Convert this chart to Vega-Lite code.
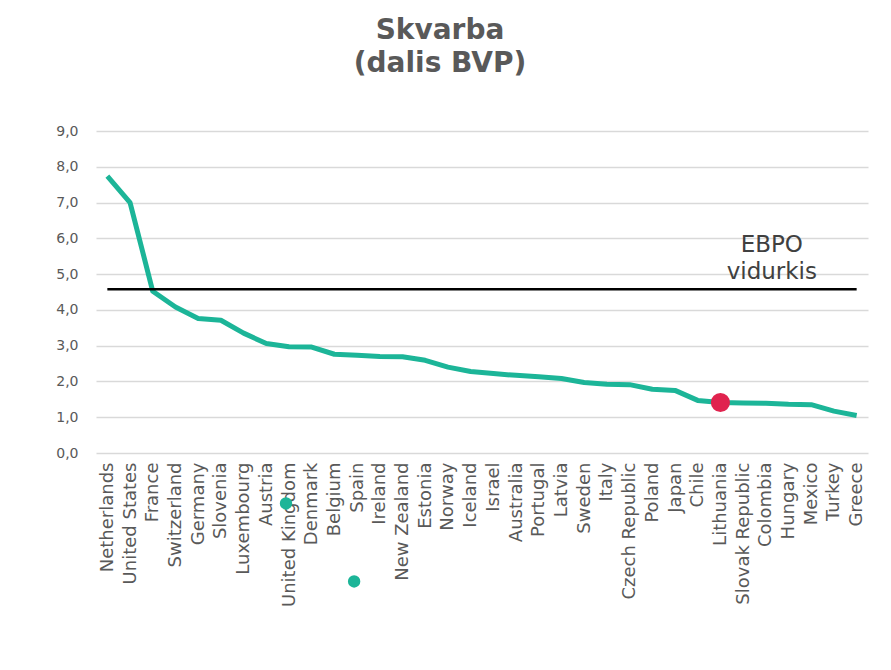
{
  "$schema": "https://vega.github.io/schema/vega-lite/v6.json",
  "autosize": "none",
  "width": 772,
  "height": 322,
  "padding": {"left": 96, "top": 131, "right": 23, "bottom": 217},
  "background": "white",
  "title": {
    "text": ["Skvarba", "(dalis BVP)"],
    "font": "DejaVu Sans",
    "fontSize": 28,
    "fontWeight": "bold",
    "color": "#595959",
    "anchor": "middle",
    "dx": -42,
    "offset": 46,
    "lineHeight": 33
  },
  "config": {
    "view": {"stroke": null},
    "font": "DejaVu Sans"
  },
  "datasets": {
    "main": [
      {"country": "Netherlands", "value": 7.74},
      {"country": "United States", "value": 7.0},
      {"country": "France", "value": 4.52},
      {"country": "Switzerland", "value": 4.08},
      {"country": "Germany", "value": 3.76},
      {"country": "Slovenia", "value": 3.71},
      {"country": "Luxembourg", "value": 3.35},
      {"country": "Austria", "value": 3.06},
      {"country": "United Kingdom", "value": 2.97},
      {"country": "Denmark", "value": 2.96},
      {"country": "Belgium", "value": 2.76},
      {"country": "Spain", "value": 2.73},
      {"country": "Ireland", "value": 2.7},
      {"country": "New Zealand", "value": 2.69},
      {"country": "Estonia", "value": 2.59},
      {"country": "Norway", "value": 2.4},
      {"country": "Iceland", "value": 2.28},
      {"country": "Israel", "value": 2.22},
      {"country": "Australia", "value": 2.17},
      {"country": "Portugal", "value": 2.13},
      {"country": "Latvia", "value": 2.08},
      {"country": "Sweden", "value": 1.97},
      {"country": "Italy", "value": 1.92},
      {"country": "Czech Republic", "value": 1.91},
      {"country": "Poland", "value": 1.78},
      {"country": "Japan", "value": 1.75},
      {"country": "Chile", "value": 1.47},
      {"country": "Lithuania", "value": 1.41},
      {"country": "Slovak Republic", "value": 1.4},
      {"country": "Colombia", "value": 1.39},
      {"country": "Hungary", "value": 1.36},
      {"country": "Mexico", "value": 1.35},
      {"country": "Turkey", "value": 1.17},
      {"country": "Greece", "value": 1.05}
    ],
    "avg": [
      {"country": "Netherlands", "country2": "Greece", "value": 4.575}
    ],
    "avgLabel": [
      {"country": "Colombia", "value": 5.61, "label": "EBPO\nvidurkis"}
    ],
    "dots": [
      {"country": "United Kingdom", "value": -1.41},
      {"country": "Spain", "value": -3.59}
    ]
  },
  "encoding": {
    "x": {
      "field": "country",
      "type": "nominal",
      "scale": {
        "type": "point",
        "padding": 0.5,
        "domain": ["Netherlands", "United States", "France", "Switzerland", "Germany", "Slovenia", "Luxembourg", "Austria", "United Kingdom", "Denmark", "Belgium", "Spain", "Ireland", "New Zealand", "Estonia", "Norway", "Iceland", "Israel", "Australia", "Portugal", "Latvia", "Sweden", "Italy", "Czech Republic", "Poland", "Japan", "Chile", "Lithuania", "Slovak Republic", "Colombia", "Hungary", "Mexico", "Turkey", "Greece"]
      },
      "axis": {
        "title": null,
        "grid": false,
        "domain": false,
        "ticks": false,
        "labelAngle": -90,
        "labelFontSize": 18,
        "labelColor": "#595959",
        "labelPadding": 9,
        "labelOverlap": false,
        "labelLimit": 400
      }
    },
    "y": {
      "field": "value",
      "type": "quantitative",
      "scale": {"domain": [0, 9], "nice": false, "zero": false},
      "axis": {
        "title": null,
        "values": [0, 1, 2, 3, 4, 5, 6, 7, 8, 9],
        "tickCount": 10,
        "grid": true,
        "gridColor": "#d9d9d9",
        "gridWidth": 1.5,
        "domain": false,
        "ticks": false,
        "labelOverlap": false,
        "labelFontSize": 14,
        "labelColor": "#595959",
        "labelPadding": 18,
        "labelExpr": "replace(format(datum.value, '.1f'), '.', ',')"
      }
    }
  },
  "layer": [
    {
      "data": {"name": "main"},
      "mark": {"type": "line", "color": "#1cb598", "strokeWidth": 5, "strokeJoin": "round"}
    },
    {
      "data": {"name": "avg"},
      "mark": {"type": "rule", "color": "black", "strokeWidth": 2.5},
      "encoding": {
        "x2": {"field": "country2"}
      }
    },
    {
      "data": {"name": "avgLabel"},
      "mark": {"type": "text", "fontSize": 23, "color": "#404040", "align": "center", "baseline": "alphabetic", "lineBreak": "\n", "lineHeight": 27, "dx": 6},
      "encoding": {
        "text": {"field": "label"}
      }
    },
    {
      "data": {"name": "main"},
      "transform": [{"filter": "datum.country === 'Lithuania'"}],
      "mark": {"type": "circle", "color": "#e0234e", "size": 366, "opacity": 1}
    },
    {
      "data": {"name": "dots"},
      "mark": {"type": "circle", "color": "#1cb598", "size": 154, "opacity": 1, "clip": false, "xOffset": -3}
    }
  ]
}
